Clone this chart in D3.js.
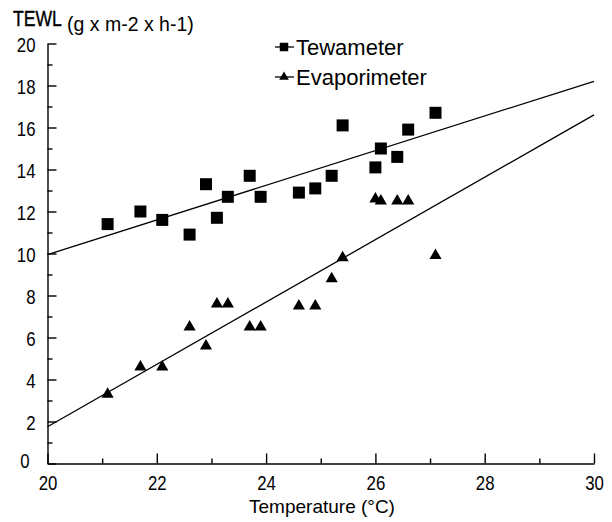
<!DOCTYPE html>
<html>
    <head>
        <script src="https://cdn.jsdelivr.net/npm/d3@7/dist/d3.min.js"></script>
    </head>
    <style>
        body { margin: 0; background: #fff; }
        text { font-family: "Liberation Sans", Arial, sans-serif; fill: #000; }
    </style>
    <body>
        <div id="canvas"></div>
        <script>
            // Tewameter readings (temperature, TEWL)
            var tewTemp = [21.1, 21.7, 22.1, 22.6, 22.9, 23.1, 23.3, 23.7, 23.9, 24.6,
                           24.9, 25.2, 25.4, 26.0, 26.1, 26.4, 26.6, 27.1];
            var tewVal  = [11.4, 12.0, 11.6, 10.9, 13.3, 11.7, 12.7, 13.7, 12.7, 12.9,
                           13.1, 13.7, 16.1, 14.1, 15.0, 14.6, 15.9, 16.7];
            // Evaporimeter readings
            var evaTemp = [21.1, 21.7, 22.1, 22.6, 22.9, 23.1, 23.3, 23.7, 23.9, 24.6,
                           24.9, 25.2, 25.4, 26.0, 26.1, 26.4, 26.6, 27.1];
            var evaVal  = [3.3, 4.6, 4.6, 6.5, 5.6, 7.6, 7.6, 6.5, 6.5, 7.5,
                           7.5, 8.8, 9.8, 12.6, 12.5, 12.5, 12.5, 9.9];
            // fitted lines, end points
            var tewFit = [[20, 9.95], [30, 18.2]];
            var evaFit = [[20, 1.75], [30, 16.6]];

            var xTicks = [20, 22, 24, 26, 28, 30];
            var xMinor = [21, 23, 25, 27, 29];
            var yTicks = [0, 2, 4, 6, 8, 10, 12, 14, 16, 18, 20];
            var yMinor = [1, 3, 5, 7, 9, 11, 13, 15, 17, 19];

            const w = 612;
            const h = 522;
            const NARROW = 0.8;   // the original lettering is a condensed face

            const x = d3.scaleLinear().domain([20, 30]).range([47.5, 594]);
            const y = d3.scaleLinear().domain([0, 20]).range([463.5, 43.5]);

            const svg = d3.select('#canvas')
                .append('svg')
                .attr('width', w)
                .attr('height', h);

            // y axis: minor then major ticks, all pointing inward
            svg.append('g')
                .attr('transform', `translate(${x(20)},0)`)
                .call(d3.axisLeft(y).tickValues(yMinor).tickSizeInner(-5).tickSizeOuter(0).tickFormat(''))
                .call(g => g.select('.domain').remove());
            svg.append('g')
                .attr('transform', `translate(${x(20)},0)`)
                .call(d3.axisLeft(y).tickValues(yTicks).tickSizeInner(-9).tickSizeOuter(0))
                .call(g => g.selectAll('text')
                    .attr('font-size', '21px')
                    .attr('x', d => (d === 0 ? -18 : -12) / NARROW)
                    .attr('dy', d => d === 0 ? '0.2em' : '0.36em')
                    .attr('transform', `scale(${NARROW},1)`));

            // x axis
            svg.append('g')
                .attr('transform', `translate(0,${y(0)})`)
                .call(d3.axisBottom(x).tickValues(xMinor).tickSizeInner(-5).tickSizeOuter(0).tickFormat(''))
                .call(g => g.select('.domain').remove());
            svg.append('g')
                .attr('transform', `translate(0,${y(0)})`)
                .call(d3.axisBottom(x).tickValues(xTicks).tickSizeInner(-10).tickSizeOuter(0))
                .call(g => g.selectAll('text')
                    .attr('font-size', '21px')
                    .attr('y', 11)
                    .attr('dy', '0.72em')
                    .attr('transform', `scale(${NARROW},1)`));

            svg.selectAll('.domain, .tick line').attr('stroke', '#000').attr('stroke-width', 1.4);

            // fit lines
            var line = d3.line().x(d => x(d[0])).y(d => y(d[1]));
            [tewFit, evaFit].forEach(f => {
                svg.append('path')
                    .attr('d', line(f))
                    .attr('fill', 'none')
                    .attr('stroke', '#000')
                    .attr('stroke-width', 1.3);
            });

            // markers
            var square = d3.symbol().type(d3.symbolSquare).size(144);
            var tri = d3.symbol().type(d3.symbolTriangle).size(64);

            svg.selectAll('path.tew')
                .data(d3.zip(tewTemp, tewVal))
                .enter()
                .append('path')
                .attr('class', 'tew')
                .attr('d', square)
                .attr('transform', d => `translate(${x(d[0])},${y(d[1])})`)
                .attr('fill', '#000');

            svg.selectAll('path.eva')
                .data(d3.zip(evaTemp, evaVal))
                .enter()
                .append('path')
                .attr('class', 'eva')
                .attr('d', tri)
                .attr('transform', d => `translate(${x(d[0])},${y(d[1])})`)
                .attr('fill', '#000');

            // legend
            var legend = [
                ['Tewameter', d3.symbol().type(d3.symbolSquare).size(72), 47],
                ['Evaporimeter', d3.symbol().type(d3.symbolTriangle).size(40), 77]
            ];
            legend.forEach(l => {
                svg.append('line')
                    .attr('x1', 275).attr('x2', 294)
                    .attr('y1', l[2]).attr('y2', l[2])
                    .attr('stroke', '#000').attr('stroke-width', 1.3);
                svg.append('path')
                    .attr('d', l[1]())
                    .attr('transform', `translate(284,${l[2]})`)
                    .attr('fill', '#000');
                svg.append('text')
                    .attr('x', 296).attr('y', l[2] + 8)
                    .attr('font-size', '22px')
                    .text(l[0]);
            });

            // titles
            svg.append('text')
                .attr('transform', `translate(13,26) scale(${NARROW},1)`)
                .attr('font-size', '22px')
                .attr('stroke', '#000')
                .attr('stroke-width', 0.4)
                .text('TEWL');
            svg.append('text')
                .attr('x', 67).attr('y', 31)
                .attr('font-size', '19.5px')
                .text('(g x m-2 x h-1)');
            svg.append('text')
                .attr('x', 322).attr('y', 513)
                .attr('text-anchor', 'middle')
                .attr('font-size', '19px')
                .text('Temperature (°C)');
        </script>
    </body>
</html>
